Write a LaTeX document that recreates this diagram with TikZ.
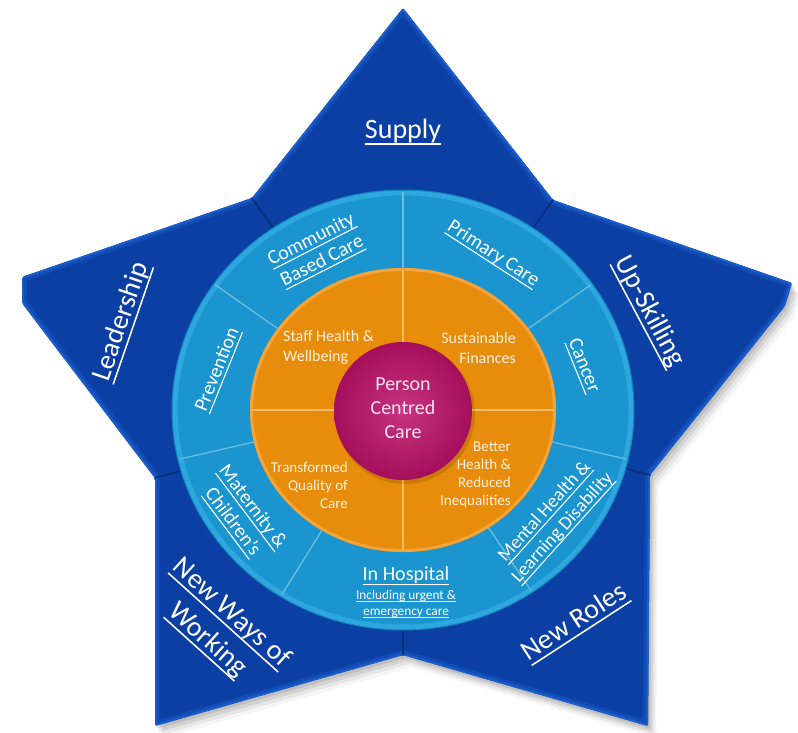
\documentclass[tikz,border=0pt]{standalone}
\usepackage{fontspec}
\setmainfont{Carlito}
\usetikzlibrary{calc}
\definecolor{starblue}{HTML}{0B3FA3}
\definecolor{starrim}{HTML}{1A5CCB}
\definecolor{starseam}{HTML}{062E7C}
\definecolor{ringblue}{HTML}{1A95CF}
\definecolor{ringrim}{HTML}{2DA7DD}
\definecolor{ringedge}{HTML}{1284BE}
\definecolor{ringline}{HTML}{6CBCDD}
\definecolor{orangefill}{HTML}{E88C0C}
\definecolor{orangerim}{HTML}{F2A33A}
\definecolor{orangeline}{HTML}{F8BC66}
\definecolor{magfill}{HTML}{A50E5A}
\definecolor{maglight}{HTML}{C8347F}
\definecolor{orangetext}{HTML}{FFF1DC}
\definecolor{centertext}{HTML}{FBE3F0}
\newcommand\uln[1]{\setbox0\hbox{#1}\rlap{\vrule width\wd0 height -0.16em depth 0.215em}\box0}
\def\starpath{(403,8) -- (553,200) -- (792,283) -- (785,306) -- (650,475) -- (648,726) -- (403,655) -- (155,726) -- (155,478) -- (22,303) -- (22,277) -- (252,198) -- cycle}
\tikzset{
  armtext/.style={text=white, font=\fontsize{28}{36}\selectfont, align=center, inner sep=0pt},
  ringtext/.style={text=white, font=\fontsize{20}{24}\selectfont, align=center, inner sep=0pt},
  smallring/.style={text=white, font=\fontsize{13.3}{16}\selectfont, align=center, inner sep=0pt},
  otext/.style={text=orangetext, font=\fontsize{16}{20}\selectfont, inner sep=0pt},
  otextsmall/.style={text=orangetext, font=\fontsize{15}{18}\selectfont, inner sep=0pt},
  ctext/.style={text=centertext, font=\fontsize{20}{24}\selectfont, align=center, inner sep=0pt},
  seam/.style={starseam, line width=1.6pt},
  ringdiv/.style={ringline, line width=1.3pt},
  odiv/.style={orangeline, line width=1.2pt}
}
\begin{document}
\begin{tikzpicture}[x=1pt,y=-1pt]
\useasboundingbox (0,0) rectangle (798,732);
\fill[white] (0,0) rectangle (798,732);
% shadow
\foreach \d/\o in {12/0.04,9/0.06,6/0.08,3/0.09}{
  \fill[black, opacity=\o, shift={(0.7*\d,\d)}, rounded corners=2pt] \starpath;
}
% star
\fill[starblue, rounded corners=2pt] \starpath;
\begin{scope}
  \clip[rounded corners=2pt] \starpath;
  \draw[starrim, line width=10pt, opacity=0.45, line join=round] \starpath;
  \draw[starrim, line width=4pt, line join=round] \starpath;
\end{scope}
\coordinate (C) at (403,410);
\coordinate (UL) at (252,198);
\coordinate (UR) at (553,200);
\coordinate (LL) at (155,478);
\coordinate (LR) at (650,475);
\coordinate (V) at (403,655);
\foreach \p in {UL,UR,LL,LR,V}{
  \draw[seam] (\p) -- ($(\p)!90pt!(C)$);
}
% outer ring
\fill[ringblue] (C) ellipse [x radius=231, y radius=220];
\draw[ringrim, line width=5pt] (C) ellipse [x radius=228, y radius=217];
\draw[ringedge, line width=1pt] (C) ellipse [x radius=231, y radius=220];
\foreach \a in {90,35,-13,-56,-122,-167,145}{
  \draw[ringdiv] ({403+153*cos(\a)},{410-142*sin(\a)}) -- ({403+229*cos(\a)},{410-218*sin(\a)});
}
% orange ring
\fill[orangefill] (C) ellipse [x radius=153, y radius=142];
\draw[orangerim, line width=3pt] (C) ellipse [x radius=151.5, y radius=140.5];
\foreach \a in {0,90,180,270}{
  \draw[odiv] ({403+68*cos(\a)},{410-68*sin(\a)}) -- ({403+151*cos(\a)},{410-140*sin(\a)});
}
% centre
\fill[black, opacity=0.12] (405,414) circle (70);
\shade[inner color=maglight, outer color=magfill] (403,411) circle (69);
\node[ctext] (pcc) at (403,408) {Person\\Centred\\Care};
% arm labels
\node[armtext] (supply) at (403,132) {\uln{Supply}};
\node[armtext, rotate=71] (lead) at (122,322) {\uln{Leadership}};
\node[armtext, rotate=-62] (upsk) at (649,312) {\uln{Up-Skilling}};
\node[armtext, rotate=-42] (nww) at (219,627) {\uln{New Ways of}\\\uln{Working}};
\node[armtext, rotate=33] (nroles) at (575,623) {\uln{New Roles}};
% ring labels
\node[ringtext, rotate=27] (cbc) at (317,251) {\uln{Community}\\\uln{Based Care}};
\node[ringtext, rotate=-33] (pc) at (493,254) {\uln{Primary Care}};
\node[ringtext, rotate=68] (prev) at (218,370) {\uln{Prevention}};
\node[ringtext, rotate=-68] (canc) at (583,366) {\uln{Cancer}};
\node[ringtext, rotate=-53, font=\fontsize{20}{25}\selectfont] (mat) at (242,515) {\uln{Maternity \&}\\\uln{Children's}};
\node[ringtext] (hosp) at (406,576) {\uln{In Hospital}};
\node[smallring] (incl) at (406,604) {\uln{Including urgent \&}\\\uln{emergency care}};
\node[ringtext, rotate=48, font=\fontsize{19}{24}\selectfont] (mh) at (554,520) {\uln{Mental Health \&}\\\uln{Learning Disability}};
% orange labels
\node[otext, align=left, anchor=west] (staff) at (283,347) {Staff Health \&\\Wellbeing};
\node[otext, align=right, anchor=east] (sust) at (516,348) {Sustainable\\Finances};
\node[otextsmall, align=right, anchor=east] (tqc) at (348,485) {Transformed\\Quality of\\Care};
\node[otextsmall, align=right, anchor=east] (bhr) at (511,475) {Better\\Health \&\\Reduced\\Inequalities};
\end{tikzpicture}
\end{document}
